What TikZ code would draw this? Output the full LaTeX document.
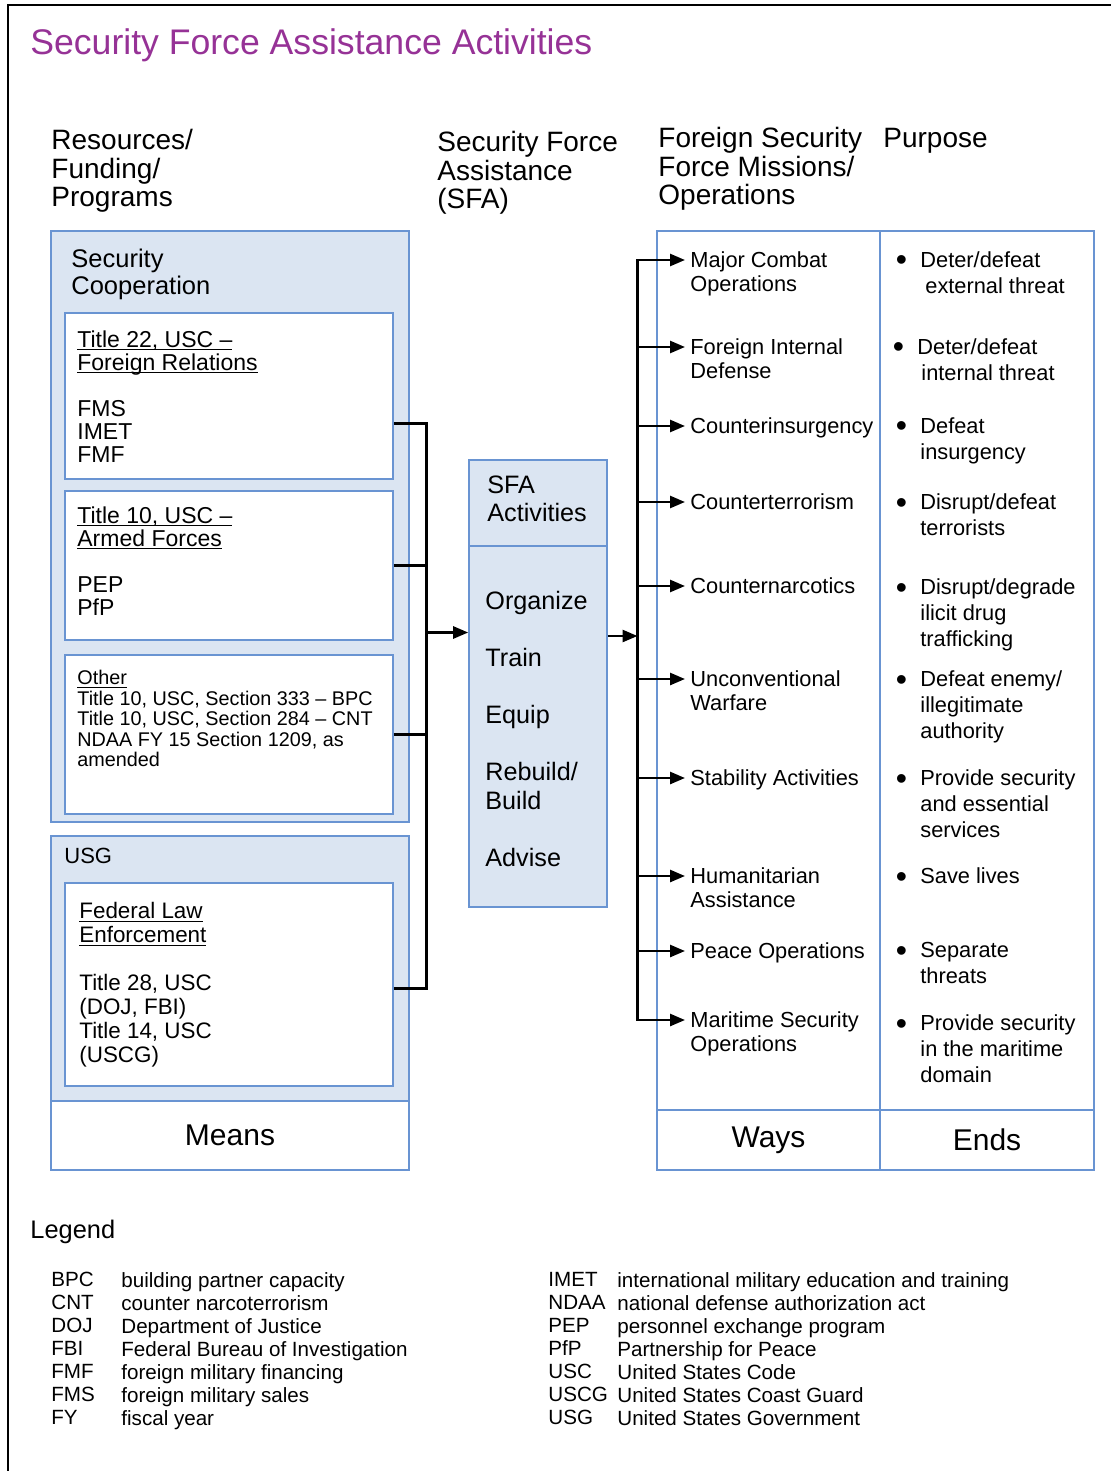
\documentclass[tikz,border=0pt]{standalone}
\usepackage{fontspec}
\setmainfont{Liberation Sans}
\usetikzlibrary{arrows.meta}
\definecolor{sfapurple}{RGB}{150,50,150}
\definecolor{sfablue}{RGB}{105,148,210}
\definecolor{sfafill}{RGB}{219,229,242}
\newcommand{\sfasize}[2]{\fontsize{#1}{#2}\selectfont}
\newcommand{\bul}{\llap{\raisebox{-1.9pt}{\sfasize{16}{16}\textbullet}\hspace{6.7pt}}}
\newcommand{\sfaul}[1]{\setbox0\hbox{#1}\rlap{\rule[-1.6pt]{\wd0}{0.5pt}}\box0}

\begin{document}
\begin{tikzpicture}[x=0.5pt, y=-0.5pt,
    box/.style={draw=sfablue, line width=0.8pt, inner sep=0pt},
    bluebox/.style={box, fill=sfafill},
    whitebox/.style={box, fill=white},
    txt/.style={anchor=north west, inner sep=0pt, align=left},
    way/.style={txt, inner xsep=2.5pt, font=\sfasize{10.9}{12}},
    purp/.style={txt, font=\sfasize{10.9}{13}},
    head/.style={txt, font=\sfasize{14}{14.25}},
    legtxt/.style={txt, font=\sfasize{10.3}{11.5}},
    conn/.style={line width=1.3pt},
    arr/.style={conn, -{Triangle[length=7.5pt, width=6pt]}}]
    \useasboundingbox (0,0) rectangle (1111,1471);
    \draw[line width=1.4pt] (8,1471) -- (8,5) -- (1111,5);

    \node (title) [txt, text=sfapurple, font=\sfasize{17.8}{20}] at (30,28) {Security Force Assistance Activities};

    \node (hres) [head] at (51,129) {Resources/\\Funding/\\Programs};
    \node (hsfa) [head] at (437,131) {Security Force\\Assistance\\(SFA)};
    \node (hfsf) [head] at (658,127) {Foreign Security\\Force Missions/\\Operations};
    \node (hpur) [head] at (883,128) {Purpose};

    \node (sc) [bluebox, minimum width=179pt, minimum height=295.5pt] at (230,526.5) {};
    \node (t22) [whitebox, minimum width=164pt, minimum height=83pt] at (229,396) {};
    \node (t10) [whitebox, minimum width=164pt, minimum height=74.5pt] at (229,565.5) {};
    \node (oth) [whitebox, minimum width=164pt, minimum height=79.5pt] at (229,734.5) {};
    \node (usg) [bluebox, minimum width=179pt, minimum height=132.5pt] at (230,968.5) {};
    \node (fle) [whitebox, minimum width=164pt, minimum height=101.5pt] at (229,984.5) {};
    \node (means) [whitebox, minimum width=179pt, minimum height=34.5pt, font=\sfasize{15}{16}] at (230,1135.5) {Means};

    \node (sclbl) [txt, font=\sfasize{12.75}{13.5}] at (71,249) {Security\\Cooperation};
    \node (t22txt) [txt, font=\sfasize{11.5}{11.5}] at (77,330) {\sfaul{Title 22, USC –}\\\sfaul{Foreign Relations}\\[11.5pt]FMS\\IMET\\FMF};
    \node (t10txt) [txt, font=\sfasize{11.5}{11.5}] at (77,506) {\sfaul{Title 10, USC –}\\\sfaul{Armed Forces}\\[11.5pt]PEP\\PfP};
    \node (othtxt) [txt, font=\sfasize{9.9}{10.25}] at (77,670) {\sfaul{Other}\\Title 10, USC, Section 333 – BPC\\Title 10, USC, Section 284 – CNT\\NDAA FY 15 Section 1209, as\\amended};
    \node (usglbl) [txt, font=\sfasize{11}{12}] at (64,848) {USG};
    \node (fletxt) [txt, font=\sfasize{11.2}{12}] at (79,902) {\sfaul{Federal Law}\\\sfaul{Enforcement}\\[12pt]Title 28, USC\\(DOJ, FBI)\\Title 14, USC\\(USCG)};

    \node (sfahd) [bluebox, minimum width=69pt, minimum height=43pt] at (538,503) {};
    \node (sfabd) [bluebox, minimum width=69pt, minimum height=180.5pt] at (538,726.5) {};
    \node (sfalbl) [txt, font=\sfasize{12.6}{14}] at (487,476) {SFA\\Activities};
    \node (sfatxt) [txt, font=\sfasize{12.6}{14.25}] at (485,591) {Organize\\[14.25pt]Train\\[14.25pt]Equip\\[14.25pt]Rebuild/\\Build\\[14.25pt]Advise};

    \node (waycol) [whitebox, minimum width=111.5pt, minimum height=439.5pt] at (768.5,670.5) {};
    \node (endcol) [whitebox, minimum width=107pt, minimum height=439.5pt] at (987,670.5) {};
    \node (ways) [whitebox, minimum width=111.5pt, minimum height=30pt, font=\sfasize{15}{16}] at (768.5,1140) {Ways};
    \node (ends) [whitebox, minimum width=107pt, minimum height=30pt, font=\sfasize{15}{16}] at (987,1140) {Ends};

    \node (w1) [way] at (685,251) {Major Combat\\Operations};
    \node (w2) [way] at (685,338) {Foreign Internal\\Defense};
    \node (w3) [way] at (685,417) {Counterinsurgency};
    \node (w4) [way] at (685,493) {Counterterrorism};
    \node (w5) [way] at (685,577) {Counternarcotics};
    \node (w6) [way] at (685,670) {Unconventional\\Warfare};
    \node (w7) [way] at (685,769) {Stability Activities};
    \node (w8) [way] at (685,867) {Humanitarian\\Assistance};
    \node (w9) [way] at (685,942) {Peace Operations};
    \node (w10) [way] at (685,1011) {Maritime Security\\Operations};

    \node (e1) [purp] at (920,251) {\bul Deter/defeat\\\hspace{2.5pt}external threat};
    \node (e2) [purp] at (917,338) {\bul Deter/defeat\\\hspace{2pt}internal threat};
    \node (e3) [purp] at (920,417) {\bul Defeat\\insurgency};
    \node (e4) [purp] at (920,493) {\bul Disrupt/defeat\\terrorists};
    \node (e5) [purp] at (920,578) {\bul Disrupt/degrade\\ilicit drug\\trafficking};
    \node (e6) [purp] at (920,670) {\bul Defeat enemy/\\illegitimate\\authority};
    \node (e7) [purp] at (920,769) {\bul Provide security\\and essential\\services};
    \node (e8) [purp] at (920,867) {\bul Save lives};
    \node (e9) [purp] at (920,942) {\bul Separate\\threats};
    \node (e10) [purp] at (920,1014) {\bul Provide security\\in the maritime\\domain};

    \coordinate (lbus) at (426.5,632.5);
    \coordinate (rbus) at (637.5,636);
    \draw[conn] ([yshift=-13.75pt]t22.east) -| (lbus);
    \draw[conn] ([yshift=-1.85pt]fle.east) -| (lbus);
    \draw[conn] (t10.east) -- (t10.east -| lbus);
    \draw[conn] (oth.east) -- (oth.east -| lbus);
    \draw[arr] (lbus) -- (sfabd.west |- lbus);
    \draw[arr] (sfabd.east |- rbus) -- (rbus);
    \draw[arr] (rbus) |- ([yshift=-4.5pt]w1.north west);
    \draw[arr] (rbus) |- ([yshift=-4.5pt]w10.north west);
    \draw[arr] ([yshift=-4.5pt]rbus |- w2.north west) -- ([yshift=-4.5pt]w2.north west);
    \draw[arr] ([yshift=-4.5pt]rbus |- w3.north west) -- ([yshift=-4.5pt]w3.north west);
    \draw[arr] ([yshift=-4.5pt]rbus |- w4.north west) -- ([yshift=-4.5pt]w4.north west);
    \draw[arr] ([yshift=-4.5pt]rbus |- w5.north west) -- ([yshift=-4.5pt]w5.north west);
    \draw[arr] ([yshift=-4.5pt]rbus |- w6.north west) -- ([yshift=-4.5pt]w6.north west);
    \draw[arr] ([yshift=-4.5pt]rbus |- w7.north west) -- ([yshift=-4.5pt]w7.north west);
    \draw[arr] ([yshift=-4.5pt]rbus |- w8.north west) -- ([yshift=-4.5pt]w8.north west);
    \draw[arr] ([yshift=-4.5pt]rbus |- w9.north west) -- ([yshift=-4.5pt]w9.north west);

    \node (leg) [txt, font=\sfasize{12.7}{14}] at (30,1220) {Legend};
    \node (legabl) [legtxt] at (51,1272) {BPC\\CNT\\DOJ\\FBI\\FMF\\FMS\\FY};
    \node (legdsl) [legtxt] at (121,1272) {building partner capacity\\counter narcoterrorism\\Department of Justice\\Federal Bureau of Investigation\\foreign military financing\\foreign military sales\\fiscal year};
    \node (legabr) [legtxt] at (548,1272) {IMET\\NDAA\\PEP\\PfP\\USC\\USCG\\USG};
    \node (legdsr) [legtxt] at (617,1272) {international military education and training\\national defense authorization act\\personnel exchange program\\Partnership for Peace\\United States Code\\United States Coast Guard\\United States Government};
\end{tikzpicture}
\end{document}
